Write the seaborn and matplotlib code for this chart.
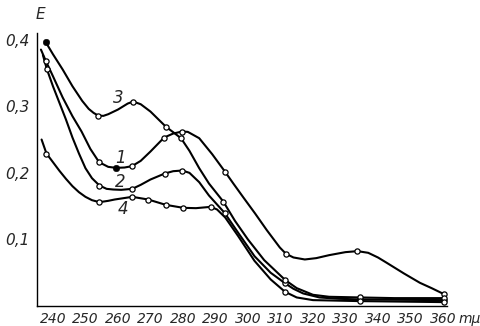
"""Спектры поглощения — кривые 1–4 (воспроизведение рисунка)"""

import matplotlib
matplotlib.use("Agg")
import matplotlib.pyplot as plt
import pandas as pd
import seaborn as sns

# ── данные ──
# кривая 1 (с максимумом при 335 mμ)
c1_nm = [236.3, 237.8, 240, 243, 246, 248.8, 251.5, 254.2, 257, 259.4, 262, 264.3,
         267, 270, 274.2, 277, 279.7, 281.5, 285, 289, 292.9, 295.5, 298.6,
         302.2, 305.8, 309.8, 311.7, 314, 317.5, 321, 325, 330, 333.7, 337,
         340, 342.7, 348, 352.9, 356.5, 360.3]
c1_E = [0.385, 0.368, 0.345, 0.313, 0.285, 0.262, 0.236, 0.216, 0.209, 0.2075,
        0.208, 0.210, 0.218, 0.232, 0.253, 0.259, 0.262, 0.2615, 0.252, 0.228,
        0.202, 0.184, 0.163, 0.139, 0.114, 0.088, 0.0785, 0.073, 0.070, 0.072,
        0.0765, 0.081, 0.0825, 0.080, 0.073, 0.065, 0.049, 0.035, 0.027, 0.018]
c1_mk_nm = [237.8, 254.2, 264.3, 274.2, 279.7, 292.9, 311.7, 333.7, 360.3]
c1_mk_E = [0.368, 0.216, 0.210, 0.253, 0.262, 0.202, 0.0785, 0.0825, 0.018]

# кривая 2
c2_nm = [236.9, 238.1, 240, 242, 244, 246, 248, 250, 252, 254.3, 256.5, 258.5,
         261, 264.4, 267, 270, 274.4, 277, 279.8, 282, 285, 288, 292.8, 297, 302,
         307, 311.5, 314, 317, 322, 328, 334.5, 360.3]
c2_E = [0.377, 0.356, 0.330, 0.305, 0.280, 0.253, 0.229, 0.207, 0.192, 0.181,
        0.176, 0.175, 0.1745, 0.176, 0.182, 0.190, 0.199, 0.2025, 0.2035, 0.200,
        0.186, 0.166, 0.140, 0.110, 0.075, 0.050, 0.034, 0.026, 0.019, 0.013,
        0.011, 0.010, 0.009]
c2_mk_nm = [238.1, 254.3, 264.4, 274.4, 279.8, 292.8, 311.5, 334.5, 360.3]
c2_mk_E = [0.356, 0.181, 0.176, 0.199, 0.2035, 0.140, 0.034, 0.010, 0.009]

# кривая 3
c3_nm = [237.8, 240, 243, 246, 249, 251, 252.5, 253.9, 255.5, 257, 260, 263,
         264.7, 267, 270, 272.5, 274.8, 277, 279.4, 282, 285, 288, 292.4, 296,
         300, 305, 311.5, 315, 320, 325, 334.5, 345, 360.3]
c3_E = [0.396, 0.378, 0.355, 0.330, 0.308, 0.296, 0.290, 0.286, 0.2855, 0.288,
        0.295, 0.304, 0.307, 0.303, 0.292, 0.280, 0.269, 0.261, 0.252, 0.233,
        0.207, 0.184, 0.157, 0.128, 0.100, 0.069, 0.039, 0.027, 0.017, 0.014,
        0.013, 0.012, 0.012]
c3_mk_nm = [253.9, 264.7, 274.8, 279.4, 292.4, 311.5, 334.5, 360.3]
c3_mk_E = [0.286, 0.307, 0.269, 0.252, 0.157, 0.039, 0.013, 0.012]

# кривая 4
c4_nm = [236.5, 238, 240, 242, 244, 246, 248, 250, 252, 254.3, 257, 259, 264.4,
         269.3, 274.7, 280.1, 284, 288.6, 290.5, 293, 297, 302, 307, 311.4, 315,
         320, 334.5, 360.3]
c4_E = [0.250, 0.229, 0.216, 0.203, 0.191, 0.180, 0.171, 0.164, 0.159, 0.156,
        0.158, 0.160, 0.164, 0.160, 0.152, 0.1475, 0.147, 0.149, 0.145, 0.133,
        0.105, 0.068, 0.040, 0.0215, 0.013, 0.009, 0.0075, 0.006]
c4_mk_nm = [238, 254.3, 264.4, 269.3, 274.7, 280.1, 288.6, 311.4, 334.5, 360.3]
c4_mk_E = [0.229, 0.156, 0.164, 0.160, 0.152, 0.1475, 0.149, 0.0215, 0.0075, 0.006]

# закрашенные точки
filled_nm = [237.8, 259.4]
filled_E = [0.396, 0.2075]

x_ticks = [240, 250, 260, 270, 280, 290, 300, 310, 320, 330, 340, 350, 360]
y_ticks = [0.1, 0.2, 0.3, 0.4]
y_labels = ["0,1", "0,2", "0,3", "0,4"]

# ── стиль ──
sns.set_style("white")
plt.rcParams["font.family"] = ["Liberation Sans Narrow", "DejaVu Sans"]
plt.rcParams["font.style"] = "italic"

traces = pd.concat([
    pd.DataFrame({"nm": c1_nm, "E": c1_E, "curve": "1"}),
    pd.DataFrame({"nm": c2_nm, "E": c2_E, "curve": "2"}),
    pd.DataFrame({"nm": c3_nm, "E": c3_E, "curve": "3"}),
    pd.DataFrame({"nm": c4_nm, "E": c4_E, "curve": "4"}),
])
marks = pd.concat([
    pd.DataFrame({"nm": c1_mk_nm, "E": c1_mk_E}),
    pd.DataFrame({"nm": c2_mk_nm, "E": c2_mk_E}),
    pd.DataFrame({"nm": c3_mk_nm, "E": c3_mk_E}),
    pd.DataFrame({"nm": c4_mk_nm, "E": c4_mk_E}),
])

fig = plt.figure(figsize=(4.81, 3.26), dpi=100)
ax = fig.add_axes([0.077, 0.061, 0.852, 0.838])

sns.lineplot(data=traces, x="nm", y="E", hue="curve", units="curve",
             estimator=None, sort=False, palette=["black"] * 4,
             linewidth=1.5, legend=False, ax=ax)
sns.scatterplot(data=marks, x="nm", y="E", s=14, color="white",
                edgecolor="black", linewidth=0.9, zorder=3, ax=ax)
sns.scatterplot(x=filled_nm, y=filled_E, s=22, color="black",
                edgecolor="black", zorder=4, ax=ax)

ax.set_xlim(235.1, 361.2)
ax.set_ylim(0, 0.41)
ax.set_xticks(x_ticks)
ax.set_xticklabels([str(t) for t in x_ticks], fontsize=10)
ax.set_yticks(y_ticks)
ax.set_yticklabels(y_labels, fontsize=11)
ax.tick_params(axis="x", direction="in", length=3, pad=4)
ax.tick_params(axis="y", direction="out", length=3, pad=2)
ax.set_xlabel("")
ax.set_ylabel("")
for s in ["top", "right"]:
    ax.spines[s].set_visible(False)
for s in ["left", "bottom"]:
    ax.spines[s].set_color("black")
    ax.spines[s].set_linewidth(1.0)

# номера кривых
ax.text(260, 0.313, "3", fontsize=12, ha="center", va="center")
ax.text(260.8, 0.222, "1", fontsize=12, ha="center", va="center")
ax.text(260.6, 0.187, "2", fontsize=12, ha="center", va="center")
ax.text(261.5, 0.145, "4", fontsize=12, ha="center", va="center")

# обозначения осей
ax.text(236.2, 0.438, "E", fontsize=11, ha="center", va="center", clip_on=False)
ax.text(368.2, -0.019, "mμ", fontsize=10, ha="center", va="center", clip_on=False)

plt.savefig("out.png", dpi=100)
plt.close()
